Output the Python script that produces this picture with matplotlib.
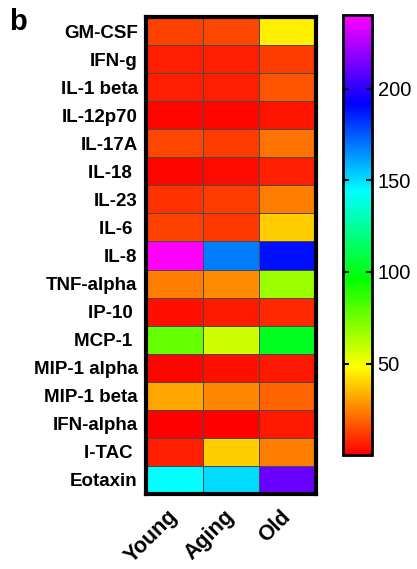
import numpy as np
import matplotlib
matplotlib.use("Agg")
import matplotlib.pyplot as plt
from matplotlib.colors import ListedColormap, hsv_to_rgb

cytokines = ["GM-CSF", "IFN-g", "IL-1 beta", "IL-12p70", "IL-17A", "IL-18 ", "IL-23",
             "IL-6 ", "IL-8", "TNF-alpha", "IP-10 ", "MCP-1 ", "MIP-1 alpha",
             "MIP-1 beta", "IFN-alpha", "I-TAC ", "Eotaxin"]
groups = ["Young", "Aging", "Old"]

young = [13, 6.5, 6.5, 1, 14, 1.5, 10, 13, 240, 24, 3, 77, 1.5, 31, 0.6, 6, 144]
aging = [14, 6, 6, 1, 12, 2.3, 12, 11, 168, 27, 5, 58, 3.4, 26, 0, 39, 150]
old = [45, 12, 16, 4.5, 22, 6, 24, 39, 189, 67, 7.5, 102, 5, 19, 5, 24, 211]

cbar_ticks = [50, 100, 150, 200]

plt.rcParams["font.family"] = ["Liberation Sans", "DejaVu Sans"]

# linear hue sweep: red -> yellow -> green -> cyan -> blue -> magenta
hues = np.linspace(0, 300 / 360, 256)
hsv = np.column_stack([hues, np.ones_like(hues), np.ones_like(hues)])
cmap = ListedColormap(hsv_to_rgb(hsv))

data = np.column_stack([young, aging, old])

fig = plt.figure(figsize=(4.17, 5.69), dpi=100)
ax = fig.add_axes([0.350, 0.132, 0.408, 0.838])
cax = fig.add_axes([0.823, 0.200, 0.0695, 0.773])

mesh = ax.pcolormesh(data, cmap=cmap, vmin=0, vmax=240,
                     edgecolors="#4a4a4a", linewidth=0.7)
ax.set_xlim(0, data.shape[1])
ax.set_ylim(data.shape[0], 0)

ax.set_yticks(np.arange(len(cytokines)) + 0.5)
ax.set_yticklabels(cytokines, fontsize=13.5, fontweight="bold")
ax.set_xticks(np.arange(len(groups)) + 0.5)
ax.set_xticklabels(groups, fontsize=15.5, fontweight="bold", rotation=45,
                   ha="right", va="center", rotation_mode="anchor")
ax.tick_params(axis="y", length=0, pad=6)
ax.tick_params(axis="x", length=0, pad=14)
for s in ax.spines.values():
    s.set_linewidth(3)

cb = fig.colorbar(mesh, cax=cax, ticks=cbar_ticks)
cb.outline.set_linewidth(2)
cb.ax.tick_params(direction="in", left=True, right=True, length=4, width=1.5,
                  labelsize=14.5, pad=4)

fig.text(0.022, 0.962, "b", fontsize=21, fontweight="bold", va="center")

fig.savefig("out.png", dpi=100)
